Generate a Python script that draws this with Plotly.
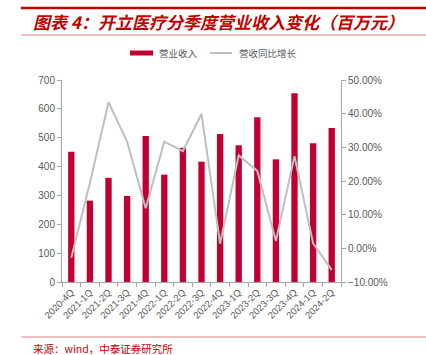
import plotly.graph_objects as go

quarters = ["2020-4Q", "2021-1Q", "2021-2Q", "2021-3Q", "2021-4Q", "2022-1Q", "2022-2Q",
            "2022-3Q", "2022-4Q", "2023-1Q", "2023-2Q", "2023-3Q", "2023-4Q", "2024-1Q", "2024-2Q"]
revenue = [451, 282, 361, 298, 506, 372, 465, 417, 513, 474, 571, 425, 654, 481, 534]
yoy_growth = [-0.028, 0.194, 0.434, 0.317, 0.119, 0.317, 0.289, 0.399, 0.014, 0.276, 0.230, 0.022, 0.274, 0.015, -0.064]

title_text = "图表 4：开立医疗分季度营业收入变化（百万元）"
source_text = "来源：wind，中泰证券研究所"
legend_bar = "营业收入"
legend_line = "营收同比增长"

W, H = 426, 355
L, R, T, B = 62, 341, 80, 282

def px(x):
    return (x - L) / (R - L)

def py(y):
    return (B - y) / (B - T)

BAR_COLOR = "#C00030"
LINE_COLOR = "#BFBFBF"
AXIS_COLOR = "#A6A6A6"
TXT = "#595959"
RED = "#C00000"
FONT = "Noto Sans CJK SC"

fig = go.Figure()
fig.add_trace(go.Bar(x=quarters, y=revenue, name=legend_bar, marker_color=BAR_COLOR,
                     marker_line_width=0, yaxis="y", showlegend=False))
fig.add_trace(go.Scatter(x=quarters, y=yoy_growth, name=legend_line, mode="lines",
                         line=dict(color=LINE_COLOR, width=2), yaxis="y2", showlegend=False))

fig.update_layout(
    width=W, height=H,
    margin=dict(l=L, r=W - R, t=T, b=H - B, pad=0),
    paper_bgcolor="white", plot_bgcolor="white",
    bargap=0.66,
    font=dict(family=FONT, size=10, color=TXT),
    xaxis=dict(type="category", showline=True, linecolor=AXIS_COLOR, linewidth=1,
               ticks="outside", tickson="boundaries", ticklen=4, tickcolor=AXIS_COLOR,
               tickangle=-45, tickfont=dict(size=9.5, color=TXT, family="Liberation Sans"),
               showgrid=False, zeroline=False),
    yaxis=dict(range=[0, 700], dtick=100, showline=True, linecolor=AXIS_COLOR, linewidth=1,
               ticks="outside", ticklen=4, tickcolor=AXIS_COLOR, showgrid=False, zeroline=False,
               tickfont=dict(size=10, color=TXT, family="Liberation Sans")),
    yaxis2=dict(range=[-0.1, 0.5], dtick=0.1, overlaying="y", side="right", tickformat=".2%",
                showline=True, linecolor=AXIS_COLOR, linewidth=1, ticks="outside", ticklen=4,
                tickcolor=AXIS_COLOR, showgrid=False, zeroline=False,
                tickfont=dict(size=10, color=TXT, family="Liberation Sans")),
)

shapes = [
    dict(type="line", xref="paper", yref="paper", x0=px(21), x1=px(426), y0=py(8), y1=py(8),
         line=dict(color=RED, width=2.5)),
    dict(type="line", xref="paper", yref="paper", x0=px(21), x1=px(426), y0=py(35), y1=py(35),
         line=dict(color="#E08080", width=1)),
    dict(type="line", xref="paper", yref="paper", x0=px(21), x1=px(426), y0=py(337), y1=py(337),
         line=dict(color="#E08080", width=1)),
    dict(type="rect", xref="paper", yref="paper", x0=px(130), x1=px(153), y0=py(50.5), y1=py(55.5),
         fillcolor=BAR_COLOR, line=dict(width=0)),
    dict(type="line", xref="paper", yref="paper", x0=px(210), x1=px(232), y0=py(53), y1=py(53),
         line=dict(color=LINE_COLOR, width=2)),
]
fig.update_layout(shapes=shapes)

annotations = [
    dict(text=f"<b><i>{title_text}</i></b>", xref="paper", yref="paper", x=px(31), y=py(22),
         xanchor="left", yanchor="middle", showarrow=False,
         font=dict(family=FONT, size=17, color=RED)),
    dict(text=legend_bar, xref="paper", yref="paper", x=px(157), y=py(53), xanchor="left",
         yanchor="middle", showarrow=False, font=dict(family=FONT, size=9.5, color=TXT)),
    dict(text=legend_line, xref="paper", yref="paper", x=px(237), y=py(53), xanchor="left",
         yanchor="middle", showarrow=False, font=dict(family=FONT, size=9.5, color=TXT)),
    dict(text=source_text, xref="paper", yref="paper", x=px(31), y=py(348), xanchor="left",
         yanchor="middle", showarrow=False, font=dict(family=FONT, size=10.5, color=RED)),
]
fig.update_layout(annotations=annotations)

fig.write_html("out.html", config={"displayModeBar": False},
               post_script="document.body.style.margin='0';document.body.style.padding='0';")
